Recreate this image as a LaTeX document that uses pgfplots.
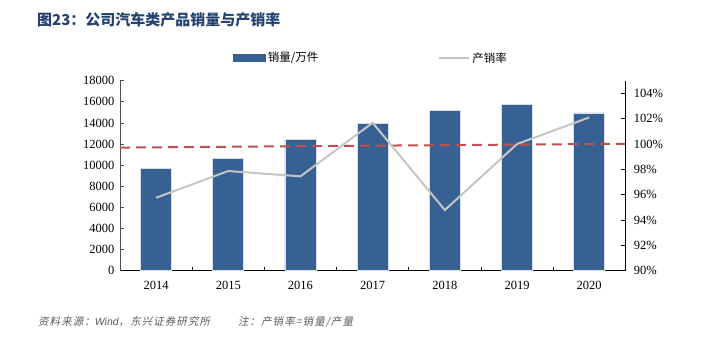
\documentclass[border=0pt]{standalone}
\usepackage{pgfplots}
\pgfplotsset{compat=1.18}
\usepackage{fontspec}
\setmainfont{Liberation Serif}
\newfontfamily\cjk{Noto Sans CJK SC}
\newfontfamily\cjkit[FakeSlant=0.2, LetterSpace=10]{Noto Sans CJK SC}
\newfontfamily\latit{Liberation Sans}
\definecolor{barblue}{RGB}{56,97,147}
\definecolor{linegray}{RGB}{197,197,197}
\definecolor{dashred}{RGB}{192,80,77}
\definecolor{titleblue}{RGB}{36,66,112}
\definecolor{srcgray}{RGB}{90,90,90}
\begin{document}
\begin{tikzpicture}
\path[use as bounding box] (0pt,0pt) rectangle (703pt,343pt);
\node[anchor=west,text=titleblue,font=\cjk\bfseries\fontsize{15}{18}\selectfont,inner sep=0pt] at (37pt,323pt) {图23：公司汽车类产品销量与产销率};
\node[anchor=west,text=srcgray,font=\fontsize{10.5}{12}\selectfont,inner sep=0pt] at (38pt,21.5pt) {\cjkit 资料来源：{\latit\itshape Wind}，东兴证券研究所\hspace{28pt}注：产销率=销量/产量};
\begin{axis}[
  at={(120pt,72.3pt)}, anchor=south west,
  scale only axis, width=505.3pt, height=190pt,
  xmin=-0.5, xmax=6.5, ymin=0, ymax=18000,
  axis y line*=left, axis x line*=bottom,
  axis line style={black, line width=1pt},
  y axis line style={draw=black!70},
  xtick={0,...,6}, xticklabels={2014,2015,2016,2017,2018,2019,2020},
  minor xtick={0.5,1.5,...,5.5},
  major x tick style={draw=none},
  minor tick length=4pt,
  minor x tick style={black, line width=0.8pt},
  xtick pos=bottom,
  ytick={0,2000,...,18000},
  ytick align=inside, xtick align=inside,
  major tick length=4pt,
  y tick style={black!70, line width=0.8pt},
  scaled y ticks=false,
  /pgf/number format/assume math mode=true,
  /pgf/number format/1000 sep={},
  tick label style={font=\fontsize{12.5}{14}\selectfont},
  yticklabel style={xshift=-2pt},
  xticklabel style={yshift=-7pt},
  clip=false,
]
\addplot[ybar, bar width=31pt, fill=barblue, draw=white!80!barblue, line width=0.6pt] coordinates {
(0,9720) (1,10620) (2,12450) (3,13950) (4,15150) (5,15720) (6,14950)};
\end{axis}
\begin{axis}[
  at={(120pt,72.3pt)}, anchor=south west,
  scale only axis, width=505.3pt, height=190pt,
  xmin=-0.5, xmax=6.5, ymin=90, ymax=105,
  axis y line*=right, axis x line=none,
  axis line style={black, line width=1pt},
  ytick={90,92,...,104},
  yticklabels={90\%,92\%,94\%,96\%,98\%,100\%,102\%,104\%},
  ytick align=inside, major tick length=4pt,
  y tick style={black, line width=0.8pt},
  tick label style={font=\fontsize{12.5}{14}\selectfont},
  yticklabel style={xshift=5pt},
  clip=false,
  legend columns=2,
  legend style={at={(0.497,1.12)}, anchor=center, draw=none, fill=none,
    font=\cjk\fontsize{11.5}{13}\selectfont,
    /tikz/every even column/.append style={column sep=118pt}},
]
\addlegendimage{legend image code/.code={\fill[barblue] (0pt,-3.6pt) rectangle (32pt,3.6pt);}}
\addlegendentry{销量/万件}
\addplot[dashred, line width=2pt, dash pattern=on 10pt off 6pt, forget plot] coordinates {(-0.5,99.72) (6.5,100.02)};
\addplot[linegray, line width=2pt, legend image code/.code={\draw[linegray, line width=2pt] (0pt,0pt) -- (30pt,0pt);}] coordinates {
(0,95.76) (1,97.87) (2,97.45) (3,101.68) (4,94.79) (5,100.0) (6,102.1)};
\addlegendentry{产销率}
\end{axis}
\end{tikzpicture}
\end{document}
